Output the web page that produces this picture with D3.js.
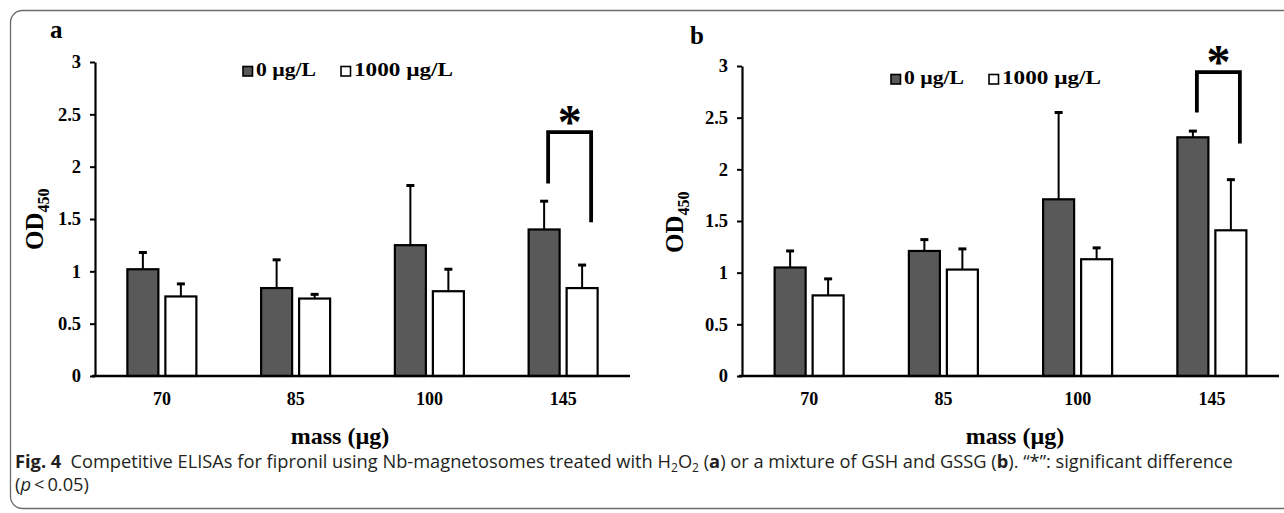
<!DOCTYPE html>
<html>
<head>
<meta charset="utf-8">
<script src="https://cdn.jsdelivr.net/npm/d3@7"></script>
<style>
  body { margin: 0; background: #fff; }
  svg { display: block; }
</style>
</head>
<body>
<div id="chart"></div>
<script>
// ---------------- data ----------------
var categories = ["70", "85", "100", "145"];
var seriesNames = ["0 µg/L", "1000 µg/L"];
var yTicks = [0, 0.5, 1, 1.5, 2, 2.5, 3];

// panel a (H2O2)
var aZero = [1.02, 0.84, 1.25, 1.40];
var aZeroErr = [0.16, 0.27, 0.57, 0.27];
var aHigh = [0.76, 0.74, 0.81, 0.84];
var aHighErr = [0.12, 0.04, 0.21, 0.22];
// significance bracket a: [left end, top, right end]
var aBracket = [1.84, 2.33, 1.47];

// panel b (GSH + GSSG)
var bZero = [1.05, 1.21, 1.71, 2.31];
var bZeroErr = [0.16, 0.11, 0.84, 0.06];
var bHigh = [0.78, 1.03, 1.13, 1.41];
var bHighErr = [0.16, 0.20, 0.11, 0.49];
var bBracket = [2.55, 2.94, 2.25];

// ---------------- svg ----------------
var width = 1284, height = 513;
var svg = d3.select("#chart").append("svg")
    .attr("width", width)
    .attr("height", height);

var serif = "'Liberation Serif', 'Times New Roman', serif";
var sans = "'Open Sans', 'Noto Sans', sans-serif";

// frame
svg.append("rect")
    .attr("x", 10.5).attr("y", 10.5)
    .attr("width", 1300).attr("height", 498)
    .attr("rx", 12).attr("ry", 12)
    .attr("fill", "none")
    .attr("stroke", "#6b6b6b")
    .attr("stroke-width", 1.3);

function drawPanel(opt) {
    var g = svg.append("g");

    var x = d3.scaleBand().domain(categories).range([opt.x0, opt.x1]);
    var x1 = d3.scaleBand().domain([0, 1]).range([-34.5, 34.5]).paddingInner(0.184);
    var y = d3.scaleLinear().domain([0, 3]).range([opt.yBottom, opt.yTop]);

    // panel letter
    g.append("text")
        .attr("x", opt.letterX).attr("y", opt.letterY)
        .text(opt.letter)
        .style("font-family", serif).style("font-weight", "bold")
        .style("font-size", "25px");

    // y axis
    var yAxis = d3.axisLeft(y)
        .tickValues(yTicks)
        .tickSize(5)
        .tickSizeOuter(0)
        .tickPadding(9)
        .tickFormat(d => String(d));
    var ya = g.append("g")
        .attr("transform", "translate(" + opt.x0 + ",0)")
        .call(yAxis);
    ya.select(".domain").attr("stroke", "#000").attr("stroke-width", 2.2);
    ya.selectAll(".tick line").attr("stroke", "#000").attr("stroke-width", 2);
    ya.selectAll(".tick text")
        .style("font-family", serif).style("font-weight", "bold")
        .style("font-size", "18.5px").attr("fill", "#000");

    // y title OD450
    var yt = g.append("text")
        .attr("transform", "translate(" + opt.yLabelX + "," + opt.yLabelY + ") rotate(-90)")
        .style("font-family", serif).style("font-weight", "bold")
        .style("font-size", "25px");
    yt.append("tspan").text("OD");
    yt.append("tspan").text("450").attr("dy", 6).style("font-size", "16px");

    var groups = [
        { vals: opt.zero, errs: opt.zeroErr, fill: "#595959", s: 0 },
        { vals: opt.high, errs: opt.highErr, fill: "#ffffff", s: 1 }
    ];

    groups.forEach(function (grp) {
        var rows = categories.map((c, i) => ({ c: c, v: grp.vals[i], e: grp.errs[i] }));
        var cx = d => x(d.c) + x.bandwidth() / 2 + x1(grp.s) + x1.bandwidth() / 2;
        var gg = g.append("g");
        // error bars (upward only)
        gg.selectAll("line.err")
            .data(rows).enter().append("line")
            .attr("x1", cx).attr("x2", cx)
            .attr("y1", d => y(d.v))
            .attr("y2", d => y(d.v + d.e))
            .attr("stroke", "#000").attr("stroke-width", 2);
        gg.selectAll("line.cap")
            .data(rows).enter().append("line")
            .attr("x1", d => cx(d) - 4)
            .attr("x2", d => cx(d) + 4)
            .attr("y1", d => y(d.v + d.e))
            .attr("y2", d => y(d.v + d.e))
            .attr("stroke", "#000").attr("stroke-width", 3);
        // bars
        gg.selectAll("rect")
            .data(rows).enter().append("rect")
            .attr("x", d => x(d.c) + x.bandwidth() / 2 + x1(grp.s))
            .attr("y", d => y(d.v))
            .attr("width", x1.bandwidth())
            .attr("height", d => y(0) - y(d.v))
            .attr("fill", grp.fill)
            .attr("stroke", "#000").attr("stroke-width", 2.2);
    });

    // x axis
    var xAxis = d3.axisBottom(x).tickSize(0).tickPadding(16);
    var xa = g.append("g")
        .attr("transform", "translate(0," + y(0) + ")")
        .call(xAxis);
    xa.select(".domain").attr("d", "M" + (opt.x0 - 3) + ",0H" + opt.x1)
        .attr("stroke", "#000").attr("stroke-width", 2.6);
    xa.selectAll(".tick text")
        .style("font-family", serif).style("font-weight", "bold")
        .style("font-size", "18px").attr("fill", "#000");

    // x title
    g.append("text")
        .attr("x", opt.xTitleX).attr("y", 444)
        .attr("text-anchor", "middle")
        .text("mass (µg)")
        .style("font-family", serif).style("font-weight", "bold")
        .style("font-size", "24px");

    // legend
    var lg = g.append("g").attr("transform", "translate(" + opt.legX + "," + opt.legY + ")");
    var legItems = [
        { name: seriesNames[0], fill: "#595959", dx: 0, len: 60 },
        { name: seriesNames[1], fill: "#ffffff", dx: 98, len: 99 }
    ];
    legItems.forEach(function (it) {
        lg.append("rect")
            .attr("x", it.dx).attr("y", -9.5)
            .attr("width", 9.5).attr("height", 9.5)
            .attr("fill", it.fill)
            .attr("stroke", "#000").attr("stroke-width", 1.6);
        lg.append("text")
            .attr("x", it.dx + 13).attr("y", 0)
            .attr("textLength", it.len)
            .attr("lengthAdjust", "spacingAndGlyphs")
            .text(it.name)
            .style("font-family", serif).style("font-weight", "bold")
            .style("font-size", "19px");
    });

    // significance bracket on 145
    var c = categories[3];
    var xl = x(c) + x.bandwidth() / 2 + x1(0) + x1.bandwidth() / 2 + 4;
    var xr = x(c) + x.bandwidth() / 2 + x1(1) + x1.bandwidth() / 2 + 9;
    g.append("path")
        .attr("d", "M" + xl + "," + y(opt.bracket[0]) +
            "V" + y(opt.bracket[1]) + "H" + xr + "V" + y(opt.bracket[2]))
        .attr("fill", "none")
        .attr("stroke", "#000").attr("stroke-width", 3.8)
        .attr("stroke-linejoin", "miter");
    g.append("text")
        .attr("x", (xl + xr) / 2)
        .attr("y", y(opt.bracket[1]) + 6)
        .attr("text-anchor", "middle")
        .text("*")
        .style("font-family", serif).style("font-weight", "bold")
        .style("font-size", "48px");
}

drawPanel({
    letter: "a", letterX: 50, letterY: 38,
    x0: 95, x1: 630, yBottom: 376, yTop: 62,
    yLabelX: 43, yLabelY: 250,
    xTitleX: 340,
    legX: 243, legY: 76,
    zero: aZero, zeroErr: aZeroErr, high: aHigh, highErr: aHighErr,
    bracket: aBracket
});

drawPanel({
    letter: "b", letterX: 690, letterY: 44,
    x0: 742, x1: 1279, yBottom: 376, yTop: 66,
    yLabelX: 683, yLabelY: 253,
    xTitleX: 1015,
    legX: 891, legY: 84,
    zero: bZero, zeroErr: bZeroErr, high: bHigh, highErr: bHighErr,
    bracket: bBracket
});

// ---------------- caption ----------------
var cap = svg.append("text")
    .attr("x", 15).attr("y", 468)
    .style("font-family", sans)
    .style("font-size", "15px")
    .attr("fill", "#231f20");
cap.append("tspan").text("Fig. 4").style("font-weight", "bold");
cap.append("tspan").text("\u2002Competitive ELISAs for fipronil using Nb-magnetosomes treated with H");
cap.append("tspan").text("2").attr("class", "sub").attr("dy", 4);
cap.append("tspan").text("O").attr("dy", -4);
cap.append("tspan").text("2").attr("class", "sub").attr("dy", 4);
cap.append("tspan").text(" (").attr("dy", -4);
cap.append("tspan").text("a").style("font-weight", "bold");
cap.append("tspan").text(") or a mixture of GSH and GSSG (");
cap.append("tspan").text("b").style("font-weight", "bold");
cap.append("tspan").text("). \u201C*\u201D: significant difference");
cap.selectAll("tspan.sub").style("font-size", "10px");

var cap2 = svg.append("text")
    .attr("x", 15).attr("y", 491)
    .style("font-family", sans)
    .style("font-size", "15px")
    .attr("fill", "#231f20");
cap2.append("tspan").text("(");
cap2.append("tspan").text("p").style("font-style", "italic");
cap2.append("tspan").text("\u2009<\u20090.05)");

// size caption so the first line spans the reference width
var w = cap.node().getComputedTextLength();
var fs = 15 * 1218 / w;
cap.style("font-size", fs + "px");
cap.selectAll("tspan.sub").style("font-size", (fs * 0.66) + "px");
cap2.style("font-size", fs + "px");
</script>
</body>
</html>
